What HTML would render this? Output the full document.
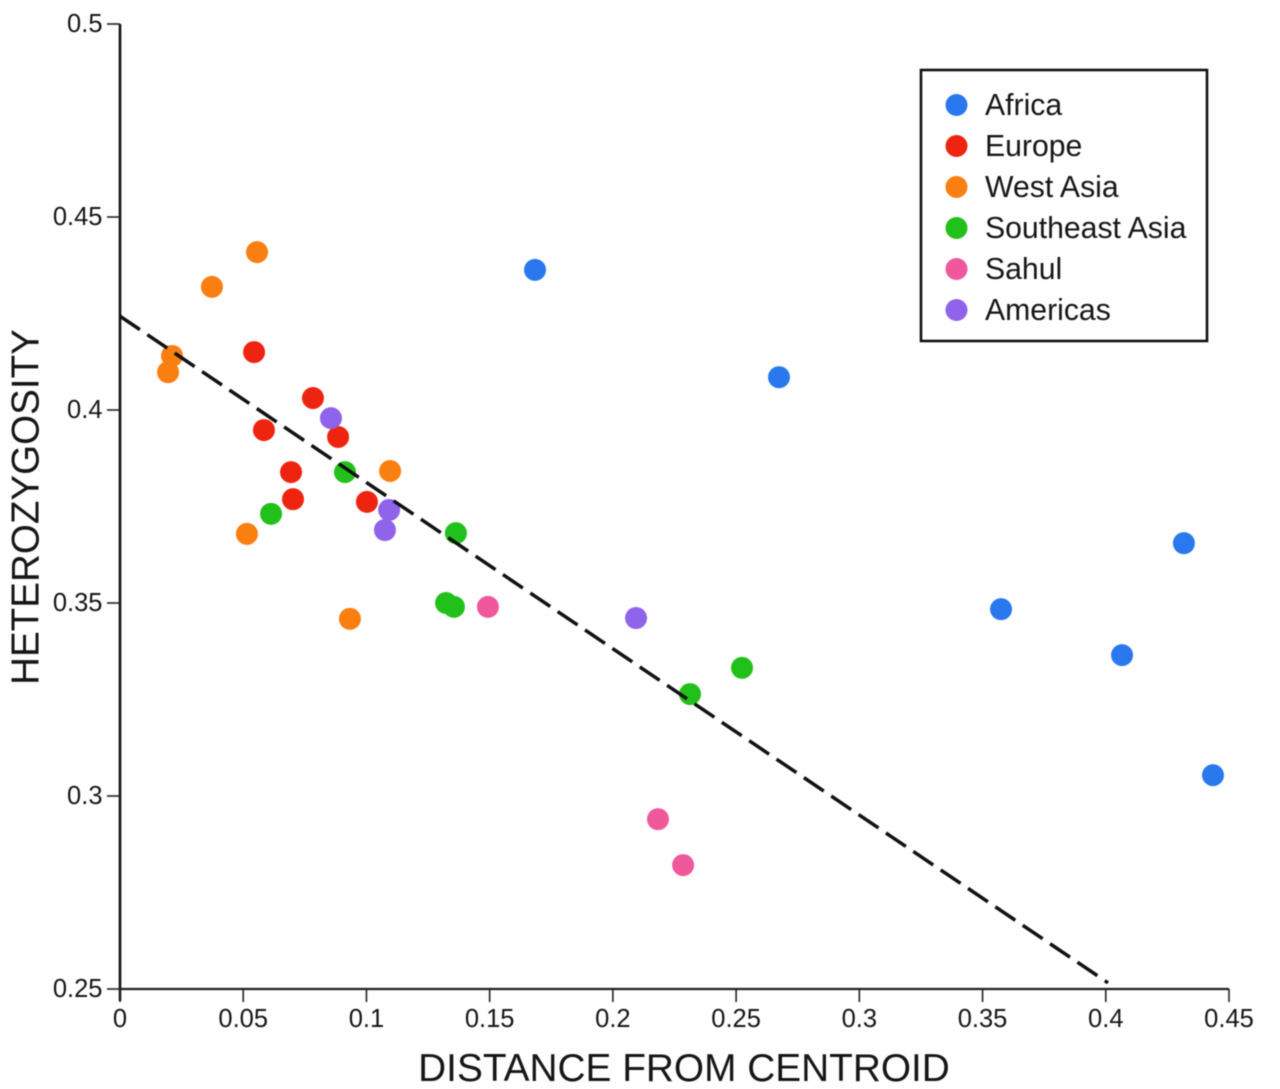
<!DOCTYPE html>
<html>
<head>
<meta charset="utf-8">
<title>Heterozygosity vs distance from centroid</title>
<style>
html,body{margin:0;padding:0;background:#fefefe;}
svg{display:block;font-family:"Liberation Sans",sans-serif;fill:#161616;filter:blur(0.4px);}
</style>
</head>
<body>
<svg id="chart" xmlns="http://www.w3.org/2000/svg" width="1280" height="1089" viewBox="0 0 1280 1089">
  <rect x="0" y="0" width="1280" height="1089" fill="#fefefe"/>
  <g id="axes"></g>
  <g id="points"></g>
  <g id="trend"></g>
  <text x="684" y="1081" text-anchor="middle" font-size="38.8">DISTANCE FROM CENTROID</text>
  <text transform="translate(38.5,507) rotate(-90)" text-anchor="middle" font-size="38.6">HETEROZYGOSITY</text>
  <g id="legend"></g>
</svg>
<script>
var xTicks = [0, 0.05, 0.1, 0.15, 0.2, 0.25, 0.3, 0.35, 0.4, 0.45];
var xTickLabels = ['0', '0.05', '0.1', '0.15', '0.2', '0.25', '0.3', '0.35', '0.4', '0.45'];
var yTicks = [0.25, 0.3, 0.35, 0.4, 0.45, 0.5];
var yTickLabels = ['0.25', '0.3', '0.35', '0.4', '0.45', '0.5'];

var seriesNames = ['Africa', 'Europe', 'West Asia', 'Southeast Asia', 'Sahul', 'Americas'];

var africaX = [0.1684, 0.2674, 0.4317, 0.3575, 0.4066, 0.4435];
var africaY = [0.4363, 0.4085, 0.3655, 0.3484, 0.3365, 0.3054];
var europeX = [0.0544, 0.0783, 0.0584, 0.0885, 0.0694, 0.0702, 0.1002];
var europeY = [0.4150, 0.4031, 0.3948, 0.3930, 0.3839, 0.3769, 0.3762];
var westAsiaX = [0.0556, 0.0373, 0.0211, 0.0195, 0.1096, 0.0515, 0.0933];
var westAsiaY = [0.4409, 0.4319, 0.4140, 0.4098, 0.3842, 0.3679, 0.3459];
var seAsiaX = [0.0913, 0.0613, 0.1363, 0.1323, 0.1355, 0.2313, 0.2524];
var seAsiaY = [0.3839, 0.3731, 0.3681, 0.3500, 0.3490, 0.3264, 0.3332];
var sahulX = [0.1493, 0.2183, 0.2285];
var sahulY = [0.3490, 0.2940, 0.2821];
var americasX = [0.0856, 0.1092, 0.1075, 0.2094];
var americasY = [0.3979, 0.3741, 0.3689, 0.3461];

var trendX = [0, 0.4009];
var trendY = [0.4243, 0.2516];

var NS = 'http://www.w3.org/2000/svg';
var seriesColors = ['#2a78ee', '#ee2410', '#f97f10', '#22c01a', '#f0589c', '#8f63ea'];
var seriesX = [africaX, europeX, westAsiaX, seAsiaX, sahulX, americasX];
var seriesY = [africaY, europeY, westAsiaY, seAsiaY, sahulY, americasY];

function sx(v) { return 120 + (v - 0) * (1229 - 120) / 0.45; }
function sy(v) { return 989 - (v - 0.25) * (989 - 24) / 0.25; }
function slug(s) { return s.toLowerCase().replace(/\s+/g, '-'); }

function mk(tag, parent, attrs) {
  var el = document.createElementNS(NS, tag);
  for (var k in attrs) { el.setAttribute(k, attrs[k]); }
  parent.appendChild(el);
  return el;
}

var axes = document.getElementById('axes');

var yLine = mk('line', axes, { x1: sx(0), y1: sy(0.5), x2: sx(0), y2: sy(0.25) + 12, stroke: '#111', 'stroke-width': 2.6 });



var xLine = mk('line', axes, { x1: sx(0), y1: sy(0.25), x2: sx(0.45), y2: sy(0.25), stroke: '#222', 'stroke-width': 2.2 });



xTicks.forEach(function (t, i) {
  var tick = mk('line', axes, { x1: sx(t), y1: 989, x2: sx(t), y2: 1002, stroke: '#222', 'stroke-width': 1.6 });
  
  
  var label = mk('text', axes, { x: sx(t), y: 1027, 'text-anchor': 'middle', 'font-size': 25.5 });
  
  
  label.textContent = xTickLabels[i];
});

yTicks.forEach(function (t, i) {
  var tick = mk('line', axes, { x1: 107, y1: sy(t), x2: 120, y2: sy(t), stroke: '#222', 'stroke-width': 1.6 });
  
  
  var label = mk('text', axes, { x: 102.5, y: sy(t) + 8, 'text-anchor': 'end', 'font-size': 25.5 });
  
  
  label.textContent = yTickLabels[i];
});

var pts = document.getElementById('points');
seriesNames.forEach(function (name, s) {
  seriesX[s].forEach(function (xv, i) {
    var c = mk('circle', pts, { cx: sx(xv), cy: sy(seriesY[s][i]), r: 11, fill: seriesColors[s] });
    
    
  });
});

var trend = mk('line', document.getElementById('trend'), {
  x1: sx(trendX[0]), y1: sy(trendY[0]), x2: sx(trendX[1]), y2: sy(trendY[1]),
  stroke: '#111', 'stroke-width': 3.5, 'stroke-dasharray': '24 9'
});



var legend = document.getElementById('legend');
var box = mk('rect', legend, { x: 921, y: 70, width: 286, height: 271, fill: '#fefefe', stroke: '#111', 'stroke-width': 2.6 });


seriesNames.forEach(function (name, s) {
  var rowY = 105 + s * 41;
  var dot = mk('circle', legend, { cx: 956.5, cy: rowY, r: 11, fill: seriesColors[s] });
  
  
  var text = mk('text', legend, { x: 985, y: rowY + 10, 'font-size': 30.2 });
  
  
  text.textContent = name;
});
</script>
</body>
</html>
